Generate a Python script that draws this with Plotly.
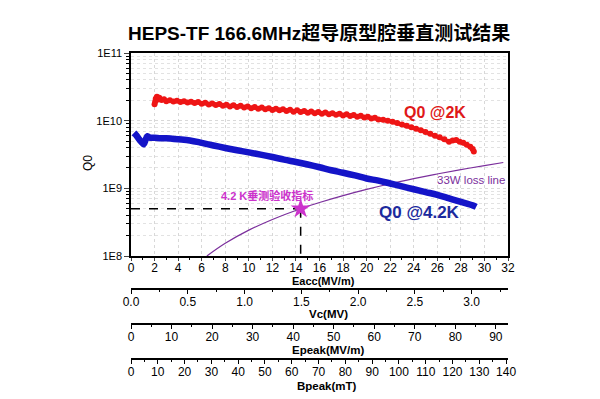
import plotly.graph_objects as go

# ---- data ----
eacc_2k = [2.0, 2.05, 2.1, 2.2, 2.3, 2.4, 2.6, 2.8, 3.0, 3.3, 3.6, 3.9, 4.2, 4.5, 4.8, 5.1, 5.4, 5.7,
           6.0, 6.3, 6.6, 6.9, 7.2, 7.5, 7.8, 8.1, 8.4, 8.7, 9.0, 9.3, 9.6, 9.9, 10.2, 10.5, 10.8,
           11.1, 11.4, 11.7, 12.0, 12.3, 12.6, 12.9, 13.2, 13.5, 13.8, 14.1, 14.4, 14.7, 15.0, 15.3,
           15.6, 15.9, 16.2, 16.5, 16.8, 17.1, 17.4, 17.7, 18.0, 18.3, 18.6, 18.9, 19.2, 19.5, 19.8,
           20.1, 20.4, 20.7, 21.0, 21.4, 21.8, 22.2, 22.6, 23.0, 23.4, 23.8, 24.2, 24.6, 25.0, 25.4,
           25.8, 26.2, 26.6, 27.0, 27.3, 27.6, 27.9, 28.2, 28.5, 28.8, 29.0, 29.1]
q0_2k = [1.75e10, 1.90e10, 2.10e10, 2.25e10, 2.05e10, 2.18e10, 2.02e10, 2.08e10, 1.94e10, 2.00e10,
         1.92e10, 1.97e10, 1.88e10, 1.94e10, 1.86e10, 1.91e10, 1.82e10, 1.88e10, 1.78e10, 1.84e10,
         1.74e10, 1.80e10, 1.70e10, 1.76e10, 1.66e10, 1.72e10, 1.62e10, 1.69e10, 1.59e10, 1.66e10,
         1.56e10, 1.62e10, 1.53e10, 1.59e10, 1.50e10, 1.56e10, 1.47e10, 1.53e10, 1.44e10, 1.50e10,
         1.42e10, 1.47e10, 1.39e10, 1.45e10, 1.36e10, 1.42e10, 1.34e10, 1.39e10, 1.31e10, 1.37e10,
         1.29e10, 1.34e10, 1.27e10, 1.32e10, 1.24e10, 1.29e10, 1.22e10, 1.27e10, 1.19e10, 1.24e10,
         1.17e10, 1.21e10, 1.14e10, 1.18e10, 1.11e10, 1.14e10, 1.08e10, 1.10e10, 1.04e10, 1.03e10,
         1.00e10, 9.6e9, 9.2e9, 8.8e9, 8.4e9, 8.0e9, 7.6e9, 7.2e9, 6.8e9, 6.4e9, 6.0e9, 5.7e9, 5.3e9,
         4.9e9, 5.1e9, 5.2e9, 4.9e9, 4.7e9, 4.4e9, 4.1e9, 3.8e9, 3.5e9]

eacc_42k = [0.25, 0.4, 0.6, 0.8, 1.0, 1.1, 1.25, 1.4, 1.6, 2.0, 2.5, 3.0, 3.5, 4.0, 5.0, 6.0, 7.0, 8.0,
            9.0, 10.0, 11.0, 12.0, 13.0, 14.0, 15.0, 16.0, 17.0, 18.0, 19.0, 20.0, 21.0, 22.0, 23.0,
            24.0, 25.0, 26.0, 27.0, 28.0, 29.0, 29.3]
q0_42k = [6.6e9, 6.2e9, 5.6e9, 5.0e9, 4.6e9, 4.5e9, 5.3e9, 5.9e9, 5.6e9, 5.6e9, 5.5e9, 5.5e9, 5.4e9,
          5.3e9, 5.1e9, 4.7e9, 4.3e9, 3.95e9, 3.65e9, 3.4e9, 3.15e9, 2.9e9, 2.65e9, 2.45e9, 2.25e9,
          2.05e9, 1.85e9, 1.7e9, 1.55e9, 1.4e9, 1.3e9, 1.18e9, 1.07e9, 9.7e8, 8.8e8, 8.0e8, 7.1e8,
          6.3e8, 5.6e8, 5.3e8]

eacc_loss = [6.44, 8, 10, 12, 14.4, 16, 18, 20, 22, 24, 26, 28, 30, 31.6]
q0_loss = [1.0e8, 1.54e8, 2.41e8, 3.47e8, 5.0e8, 6.17e8, 7.81e8, 9.65e8, 1.17e9, 1.39e9, 1.63e9,
           1.89e9, 2.17e9, 2.41e9]

spec_eacc = [14.4]
spec_q0 = [5.0e8]

y_tickvals = [1e8, 1e9, 1e10, 1e11]
y_ticktext = ["1E8", "1E9", "1E10", "1E11"]

title_text = "HEPS-TF 166.6MHz超导原型腔垂直测试结果"

# ---- figure ----
FONT = "Liberation Sans, Arial, Noto Sans CJK SC, sans-serif"
OFF = 8                      # page body margin of the browser
W, H = 600 - OFF, 399 - OFF
ML, MT, MB = 131 - OFF, 53 - OFF, 10
MR = W - (508 - OFF)
PW, PH = W - ML - MR, H - MT - MB
MAIN_BOTTOM = 256            # screen pixel of the main plot's bottom


def px(x):
    return (x - OFF - ML) / PW


def py(y):
    return (H - MB - (y - OFF)) / PH


fig = go.Figure()

# 33W loss line
fig.add_trace(go.Scatter(x=eacc_loss, y=q0_loss, mode="lines", line=dict(color="#7b2f9c", width=1.2, shape="spline"),
                         showlegend=False, hoverinfo="skip"))
# dashed guide lines to the spec point
fig.add_trace(go.Scatter(x=[0, spec_eacc[0]], y=[spec_q0[0], spec_q0[0]], mode="lines",
                         line=dict(color="black", width=1.5, dash="dash"), showlegend=False))
fig.add_trace(go.Scatter(x=[spec_eacc[0], spec_eacc[0]], y=[spec_q0[0], 1e8], mode="lines",
                         line=dict(color="black", width=1.5, dash="dash"), showlegend=False))
# 2K
fig.add_trace(go.Scatter(x=eacc_2k, y=q0_2k, mode="lines+markers",
                         line=dict(color="#ee1515", width=4),
                         marker=dict(color="#ee1515", size=6), showlegend=False))
# 4.2K
fig.add_trace(go.Scatter(x=eacc_42k, y=q0_42k, mode="lines",
                         line=dict(color="#1414c8", width=6.5, shape="spline"), showlegend=False))
# spec star
fig.add_trace(go.Scatter(x=spec_eacc, y=spec_q0, mode="markers",
                         marker=dict(symbol="star", size=15, color="#cc33cc"), showlegend=False))

# dummy traces so the extra axes exist
for ax in ["x2", "x3", "x4"]:
    fig.add_trace(go.Scatter(x=[0], y=[1e8], xaxis=ax, yaxis="y", mode="markers",
                             marker=dict(opacity=0), showlegend=False, hoverinfo="skip"))

main_bottom = py(MAIN_BOTTOM)

common_free = dict(showline=True, linecolor="black", linewidth=1.5, ticks="outside", ticklen=4,
                   tickwidth=1.2, tickcolor="black", showgrid=False, zeroline=False,
                   ticklabelstandoff=-2,
                   tickfont=dict(family=FONT, size=12, color="black"), automargin=False,
                   overlaying="x", anchor="free", side="bottom")

fig.update_layout(
    width=W, height=H,
    margin=dict(l=ML, r=MR, t=MT, b=MB, autoexpand=False),
    paper_bgcolor="white", plot_bgcolor="white",
    font=dict(family=FONT, color="black"),
    xaxis=dict(domain=[0, 1], range=[0, 32], tick0=0, dtick=2, showline=True, mirror=True,
               linecolor="black", linewidth=1.5, ticks="outside", ticklen=3, tickwidth=1.2,
               ticklabelstandoff=-3,
               tickfont=dict(family=FONT, size=12, color="black"), automargin=False,
               showgrid=True, gridcolor="#d8d8d8", griddash="dot", gridwidth=1, zeroline=False,
               minor=dict(dtick=1, ticks="outside", ticklen=2, tickcolor="black", showgrid=False)),
    yaxis=dict(domain=[main_bottom, 1], type="log", range=[8, 11], tickvals=y_tickvals,
               ticktext=y_ticktext, showline=True, mirror=True, linecolor="black", linewidth=1.5,
               ticks="outside", ticklen=5, tickwidth=1.2, automargin=False,
               tickfont=dict(family=FONT, size=11, color="black"),
               showgrid=True, gridcolor="#d8d8d8", griddash="dot", zeroline=False,
               minor=dict(dtick="D1", ticks="outside", ticklen=3, tickcolor="black",
                          showgrid=True, gridcolor="#e2e2e2", griddash="dot")),
    xaxis2=dict(range=[0, 3.32], tick0=0, dtick=0.5, tickformat=".1f", position=py(289),
                minor=dict(dtick=0.25, ticks="outside", ticklen=2, tickcolor="black"), **common_free),
    xaxis3=dict(range=[0, 93], tick0=0, dtick=10, position=py(324),
                minor=dict(dtick=5, ticks="outside", ticklen=2, tickcolor="black"), **common_free),
    xaxis4=dict(range=[0, 140.7], tick0=0, dtick=10, position=py(359),
                minor=dict(dtick=5, ticks="outside", ticklen=2, tickcolor="black"), **common_free),
)

ann = [
    dict(text="<b>" + title_text + "</b>", x=px(319), y=py(33), size=19, color="black"),
    dict(text="<b>Eacc(MV/m)</b>", x=px(323), y=py(281), size=11, color="black"),
    dict(text="<b>Vc(MV)</b>", x=px(328), y=py(314), size=11.5, color="black"),
    dict(text="<b>Epeak(MV/m)</b>", x=px(328), y=py(350), size=11.5, color="black"),
    dict(text="<b>Bpeak(mT)</b>", x=px(327), y=py(386), size=11.5, color="black"),
    dict(text="<b>Q0 @2K</b>", x=px(435), y=py(112), size=16, color="#e01818"),
    dict(text="<b>Q0 @4.2K</b>", x=px(419), y=py(212), size=17, color="#1c2a9e"),
    dict(text="33W loss line", x=px(471), y=py(180), size=11.5, color="#7b2f9c"),
    dict(text="<b>4.2 K垂测验收指标</b>", x=px(267), y=py(195), size=11, color="#cc33cc"),
]
for a in ann:
    fig.add_annotation(text=a["text"], x=a["x"], y=a["y"], xref="paper", yref="paper",
                       showarrow=False, xanchor="center", yanchor="middle",
                       font=dict(family=FONT, size=a["size"], color=a["color"]))

fig.add_annotation(text="Q0", x=px(88), y=py(163), xref="paper", yref="paper", showarrow=False,
                   textangle=-90, xanchor="center", yanchor="middle",
                   font=dict(family=FONT, size=12, color="black"))

fig.write_html("out.html")
